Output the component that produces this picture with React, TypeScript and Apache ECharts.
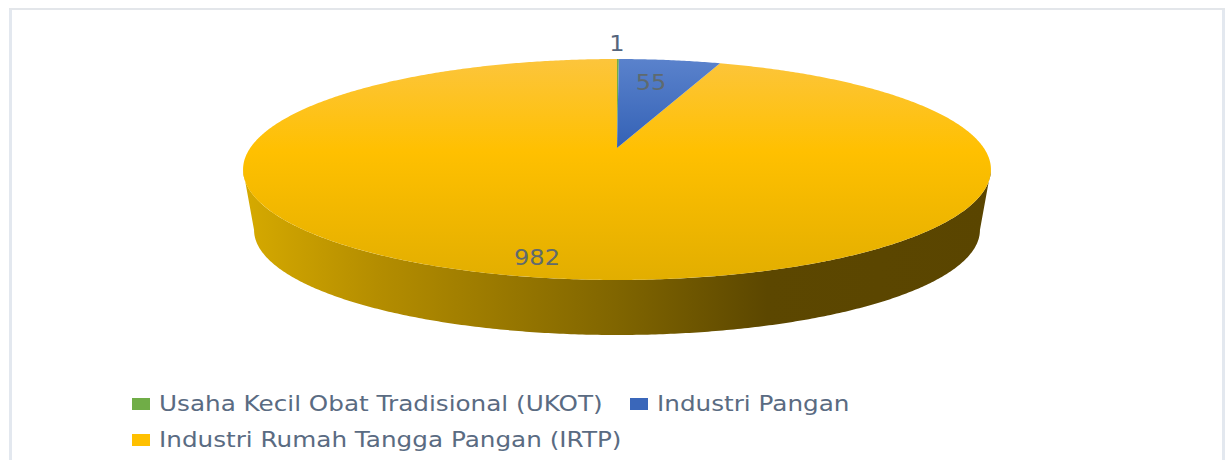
import React, { useEffect, useRef } from "react";
import * as echarts from "echarts";

const categories = ["Usaha Kecil Obat Tradisional (UKOT)", "Industri Pangan", "Industri Rumah Tangga Pangan (IRTP)"];
const values = [1, 55, 982];
const total = values.reduce((a, b) => a + b, 0);

const K = 0.1946;
const top = { cx: 617, cy: 148, a: 366.8, b: 106.3 };
const bottom = { cx: 617, cy: 209.6, a: 356, b: 101 };
const labelSpots = [
  { x: 617, y: 43 },
  { x: 651, y: 82 },
  { x: 537, y: 257 },
];
const legendSpots = [
  { x: 132, y: 404 },
  { x: 630, y: 404 },
  { x: 132, y: 440 },
];
const FONT = "DejaVu Sans";

function proj(p: typeof top, deg: number): number[] {
  const t = (deg * Math.PI) / 180;
  const u = Math.sin(t);
  const v = Math.cos(t);
  const d = 1 + K * v;
  return [p.cx + (p.a * u) / d, p.cy - (p.b * v) / d];
}

function arc(p: typeof top, from: number, to: number): number[][] {
  const out: number[][] = [];
  const n = Math.max(2, Math.ceil(Math.abs(to - from) / 0.5));
  for (let i = 0; i <= n; i++) out.push(proj(p, from + ((to - from) * i) / n));
  return out;
}

const G = (x0: number, y0: number, x1: number, y1: number, stops: [number, string][]) =>
  new echarts.graphic.LinearGradient(x0, y0, x1, y1, stops.map(([offset, color]) => ({ offset, color })), true);

const topFills = [
  "#70ad47",
  G(0, 59, 0, 150, [[0, "#5a82cc"], [1, "#3361b5"]]),
  G(0, 59, 0, 280, [[0, "#fcc53c"], [0.42, "#ffc000"], [1, "#e2ae00"]]),
];
const wallFill = G(243, 0, 991, 0, [
  [0, "#d6aa00"],
  [0.18, "#b48d00"],
  [0.5, "#806500"],
  [0.7, "#5c4700"],
  [1, "#5a4500"],
]);
const legendColors = ["#70ad47", "#3a67ba", "#ffc000"];
const wallFrom = 180 - (Math.asin(Math.sqrt(1 - K * K)) * 180) / Math.PI;
const wallTo = 360 - wallFrom;

function makeRender(idx: number) {
  return (_params: any, api: any) => {
    const before = values.slice(0, idx).reduce((a, b) => a + b, 0);
    const value = api.value(0);
    const start = (before / total) * 360;
    const end = ((before + value) / total) * 360;
    const children: any[] = [];
    const wf = Math.max(start, wallFrom);
    const wt = Math.min(end, wallTo);
    if (wt > wf) {
      children.push({
        type: "polygon",
        shape: { points: [...arc(top, wf, wt), ...arc(bottom, wt, wf)] },
        style: { fill: wallFill },
      });
    }
    children.push({
      type: "polygon",
      shape: { points: [[top.cx, top.cy], ...arc(top, start, end)] },
      style: { fill: topFills[idx] },
    });
    children.push({
      type: "text",
      x: labelSpots[idx].x,
      y: labelSpots[idx].y,
      scaleX: 1.12,
      style: {
        text: String(value),
        fill: idx === 0 ? "#55657c" : "#5f6a6e",
        font: `21.5px "${FONT}"`,
        align: "center",
        verticalAlign: "middle",
      },
    });
    return { type: "group", children };
  };
}

export default function App() {
  const ref = useRef<HTMLDivElement>(null);
  useEffect(() => {
    const chart = echarts.init(ref.current!, undefined, { renderer: "svg" });
    chart.setOption({
      animation: false,
      backgroundColor: "#ffffff",
      graphic: [
        { type: "rect", shape: { x: 9, y: 8, width: 3, height: 452 }, style: { fill: "#e3e8ef" } },
        { type: "rect", shape: { x: 1222, y: 8, width: 3, height: 452 }, style: { fill: "#e3e8ef" } },
        { type: "rect", shape: { x: 9, y: 8, width: 1216, height: 2 }, style: { fill: "#e3e6ea" } },
        ...categories.flatMap((name, i) => [
          {
            type: "rect",
            shape: { x: legendSpots[i].x, y: legendSpots[i].y - 6, width: 18, height: 12 },
            style: { fill: legendColors[i] },
          },
          {
            type: "text",
            x: legendSpots[i].x + 27,
            y: legendSpots[i].y,
            scaleX: 1.175,
            style: {
              text: name,
              fill: "#5a6b82",
              font: `21px "${FONT}"`,
              align: "left",
              verticalAlign: "middle",
            },
          },
        ]),
      ],
      series: categories.map((name, i) => ({
        type: "custom",
        name,
        coordinateSystem: "none",
        itemStyle: { color: legendColors[i] },
        data: [[values[i]]],
        renderItem: makeRender(i),
        silent: true,
        z: i === 2 ? 1 : 2,
      })),
    });
    return () => chart.dispose();
  }, []);
  return <div ref={ref} style={{ position: "fixed", left: 0, top: 0, width: 1227, height: 460 }} />;
}
